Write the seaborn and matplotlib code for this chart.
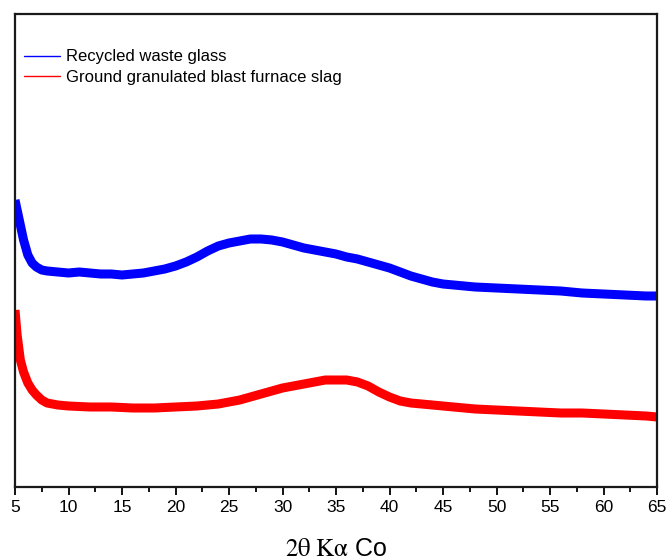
import matplotlib
matplotlib.use("Agg")
import matplotlib.pyplot as plt
import seaborn as sns
import pandas as pd
from matplotlib.lines import Line2D
from matplotlib.ticker import MultipleLocator

# ---- data (intensity in arbitrary units) ----
glass_2theta = [5.0, 5.2, 5.5, 5.8, 6.2, 6.6, 7.0, 7.5, 8, 9, 10, 11, 12, 13, 14, 15, 16, 17, 18, 19,
                20, 21, 22, 23, 24, 25, 26, 27, 28, 29, 30, 31, 32, 33, 34, 35, 36, 37, 38, 39,
                40, 41, 42, 43, 44, 45, 46, 48, 50, 52, 54, 56, 58, 60, 62, 64, 65]
glass_int = [287, 277, 262, 247, 232, 224, 220, 217, 216, 215, 214, 215, 214, 213, 213, 212, 213, 214, 216, 218,
             221, 225, 230, 236, 241, 244, 246, 248, 248, 247, 245, 242, 239, 237, 235, 233, 230, 228, 225, 222,
             219, 215, 211, 208, 205, 203, 202, 200, 199, 198, 197, 196, 194, 193, 192, 191, 191]

slag_2theta = [5.0, 5.2, 5.5, 5.8, 6.2, 6.6, 7.0, 7.5, 8, 9, 10, 12, 14, 16, 18, 20, 22, 24, 26, 27,
               28, 29, 30, 31, 32, 33, 34, 35, 36, 37, 38, 39, 40, 41, 42, 44, 46, 48, 50, 52,
               54, 56, 58, 60, 62, 64, 65]
slag_int = [177, 152, 127, 115, 104, 97, 92, 87, 84, 82, 81, 80, 80, 79, 79, 80, 81, 83, 87, 90,
            93, 96, 99, 101, 103, 105, 107, 107, 107, 105, 101, 95, 90, 86, 84, 82, 80, 78, 77, 76,
            75, 74, 74, 73, 72, 71, 70]

series_names = ["Recycled waste glass", "Ground granulated blast furnace slag"]
series_colors = ["#0000ff", "#ff0000"]
x_ticks = [5, 10, 15, 20, 25, 30, 35, 40, 45, 50, 55, 60, 65]

df_glass = pd.DataFrame({"two_theta": glass_2theta, "intensity": glass_int})
df_slag = pd.DataFrame({"two_theta": slag_2theta, "intensity": slag_int})

sns.set_style("ticks")
plt.rcParams["font.family"] = ["Liberation Sans", "DejaVu Sans"]
plt.rcParams["mathtext.fontset"] = "stix"
plt.rcParams["text.color"] = "black"
plt.rcParams["xtick.color"] = "black"
plt.rcParams["axes.labelcolor"] = "black"

fig = plt.figure(figsize=(6.71, 5.6), dpi=100)
ax = fig.add_axes([15 / 671, 1 - 487 / 560, (657 - 15) / 671, (487 - 14) / 560])

sns.lineplot(data=df_glass, x="two_theta", y="intensity", ax=ax, color=series_colors[0],
             linewidth=6.5, estimator=None, solid_joinstyle="round", solid_capstyle="butt")
sns.lineplot(data=df_slag, x="two_theta", y="intensity", ax=ax, color=series_colors[1],
             linewidth=6.5, estimator=None, solid_joinstyle="round", solid_capstyle="butt")

ax.set_xlim(5, 65)
ax.set_ylim(0, 473)
ax.set_xticks(x_ticks)
ax.set_xticklabels([str(t) for t in x_ticks])
ax.xaxis.set_minor_locator(MultipleLocator(2.5))
ax.set_yticks([])
ax.set_ylabel("")
ax.tick_params(axis="x", which="major", direction="out", length=6, width=1.3, labelsize=12.5, pad=3,
               colors="black")
ax.tick_params(axis="x", which="minor", direction="out", length=3.5, width=1.3, colors="black")
for s in ax.spines.values():
    s.set_visible(True)
    s.set_linewidth(1.6)
    s.set_color("#1a1a1a")

ax.set_xlabel(r"$\mathrm{2\theta\ K\alpha}$ Co", fontsize=18, labelpad=16, color="black")

handles = [Line2D([0], [0], color=c, linewidth=1) for c in series_colors]
leg = ax.legend(handles, series_names, loc="upper left", bbox_to_anchor=(0.014, 0.925),
                frameon=False, fontsize=12, handlelength=2.15, handletextpad=0.36,
                labelspacing=0.32, borderaxespad=0.0, borderpad=0.0, labelcolor="black")

fig.savefig("out.png", dpi=100)
